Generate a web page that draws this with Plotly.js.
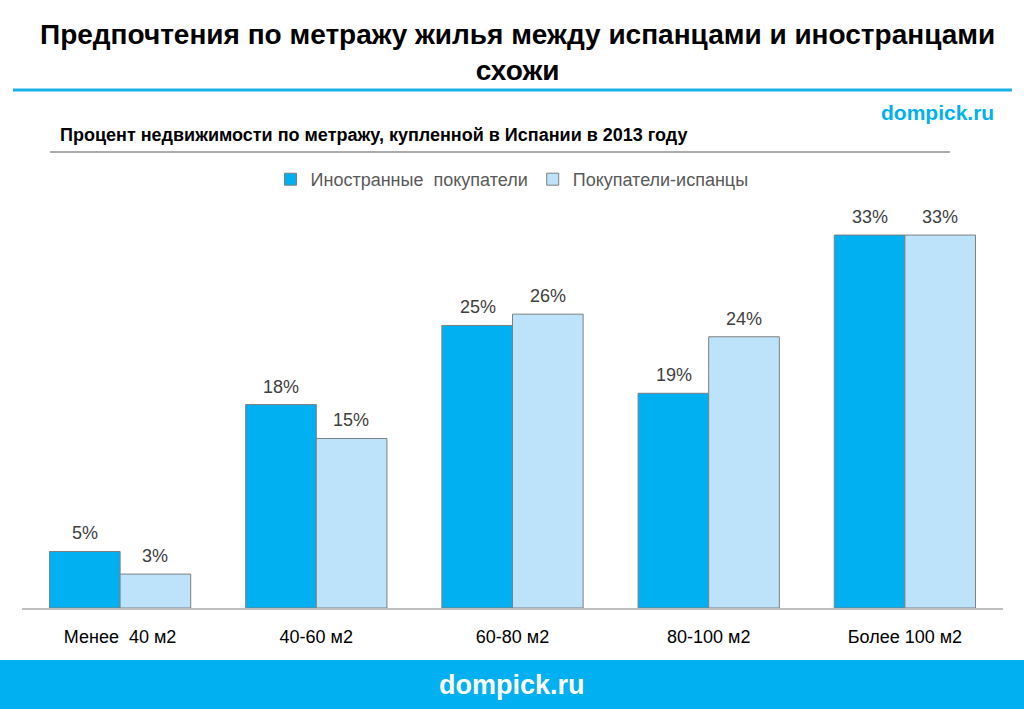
<!DOCTYPE html>
<html>
<head>
<meta charset="utf-8">
<script src="https://cdn.plot.ly/plotly-3.0.1.min.js"></script>
<style>
  html, body { margin: 0; padding: 0; background: #ffffff; }
  #chart { width: 1024px; height: 709px; }
</style>
</head>
<body>
<div id="chart"></div>
<script>
// Apartment size brackets
const categories = ["Менее\u00a0 40 м2", "40-60 м2", "60-80 м2", "80-100 м2", "Более 100 м2"];
// Share of purchases, percent
const foreignBuyers = [5, 18, 25, 19, 33];
const spanishBuyers = [3, 15, 26, 24, 33];
const seriesNames = ["Иностранные\u00a0 покупатели", "Покупатели-испанцы"];

const titleText = "Предпочтения по метражу жилья между испанцами и иностранцами<br>схожи";
const subtitleText = "Процент недвижимости по метражу, купленной в Испании в 2013 году";
const brandText = "dompick.ru";

const FONT = "Liberation Sans, Arial, sans-serif";
const BLUE = "#00b0f0";
const LIGHT = "#bde3fa";

// pixel helpers: plot area spans x 22..1003, y 200..608
const PX = (px) => (px - 22) / 981;
const PY = (py) => (608 - py) / 408;

const barCommon = {
  type: "bar",
  x: categories,
  hoverinfo: "skip"
};

const data = [
  Object.assign({}, barCommon, {
    name: seriesNames[0],
    y: foreignBuyers,
    marker: { color: BLUE, line: { color: "#7f7f7f", width: 1 } }
  }),
  Object.assign({}, barCommon, {
    name: seriesNames[1],
    y: spanishBuyers,
    marker: { color: LIGHT, line: { color: "#7f7f7f", width: 1 } }
  })
];

// value labels above each bar, offset to the bar's half of the group
const valueLabels = [];
[[foreignBuyers, -35], [spanishBuyers, 35]].forEach(([vals, dx]) => {
  vals.forEach((v, i) => {
    valueLabels.push({
      x: categories[i], y: v, xref: "x", yref: "y",
      text: v + "%", showarrow: false,
      xanchor: "center", yanchor: "bottom",
      xshift: dx, yshift: 6,
      font: { family: FONT, size: 18, color: "#404040" }
    });
  });
});

const layout = {
  width: 1024,
  height: 709,
  paper_bgcolor: "#ffffff",
  plot_bgcolor: "#ffffff",
  margin: { l: 22, r: 21, t: 200, b: 101 },
  barmode: "group",
  bargap: 0.28,
  bargroupgap: 0,
  showlegend: true,
  legend: {
    orientation: "h",
    xref: "container",
    yref: "container",
    x: 0.5,
    xanchor: "center",
    y: 1 - 161 / 709,
    yanchor: "top",
    font: { family: FONT, size: 18, color: "#595959" },
    itemclick: false,
    itemwidth: 30,
    traceorder: "normal"
  },
  xaxis: {
    showline: true,
    linecolor: "#bfbfbf",
    linewidth: 2,
    ticks: "",
    showgrid: false,
    zeroline: false,
    tickfont: { family: FONT, size: 18, color: "#000000" },
    ticklabelstandoff: 11,
    fixedrange: true
  },
  yaxis: {
    range: [0, 36.1],
    visible: false,
    showgrid: false,
    zeroline: false,
    fixedrange: true
  },
  shapes: [
    // rule under the headline
    { type: "line", xref: "x domain", yref: "y domain",
      x0: PX(13), x1: PX(1012), y0: PY(90), y1: PY(90),
      line: { color: "#1ab0ea", width: 3 } },
    // rule under the subtitle
    { type: "line", xref: "x domain", yref: "y domain",
      x0: PX(50), x1: PX(950), y0: PY(152), y1: PY(152),
      line: { color: "#595959", width: 1 } },
    // footer band
    { type: "rect", xref: "x domain", yref: "y domain", layer: "below",
      x0: PX(0), x1: PX(1024), y0: PY(709), y1: PY(660),
      fillcolor: BLUE, line: { width: 0 } }
  ],
  annotations: valueLabels.concat([
    { text: "<b>" + titleText + "</b>", xref: "x domain", yref: "y domain",
      x: PX(517), y: PY(53), xanchor: "center", yanchor: "middle",
      showarrow: false, font: { family: FONT, size: 28, color: "#000000" } },
    { text: "<b>" + brandText + "</b>", xref: "x domain", yref: "y domain",
      x: PX(996), y: PY(112), xanchor: "right", yanchor: "middle",
      showarrow: false, font: { family: FONT, size: 21, color: BLUE } },
    { text: "<b>" + subtitleText + "</b>", xref: "x domain", yref: "y domain",
      x: PX(58), y: PY(135), xanchor: "left", yanchor: "middle",
      showarrow: false, font: { family: FONT, size: 18, color: "#000000" } },
    { text: "<b>" + brandText + "</b>", xref: "x domain", yref: "y domain",
      x: PX(512), y: PY(685), xanchor: "center", yanchor: "middle",
      showarrow: false, font: { family: FONT, size: 27, color: "#ffffff" } }
  ])
};

Plotly.newPlot("chart", data, layout, { displayModeBar: false, staticPlot: true });
</script>
</body>
</html>
